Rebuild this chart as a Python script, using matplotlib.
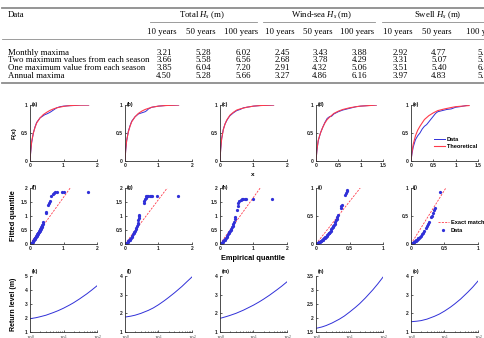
import matplotlib
matplotlib.use("Agg")
import matplotlib.pyplot as plt
from matplotlib.lines import Line2D
from matplotlib.ticker import LogLocator, NullFormatter

plt.rcParams['mathtext.fontset'] = 'custom'
plt.rcParams['mathtext.rm'] = 'Liberation Serif'
plt.rcParams['mathtext.it'] = 'Liberation Serif:italic'

# ---------------- table data ----------------
row_labels = ["Monthly maxima", "Two maximum values from each season",
              "One maximum value from each season", "Annual maxima"]
group_labels = ["Total $H_s$ (m)", "Wind-sea $H_s$ (m)", "Swell $H_s$ (m)"]
period_labels = ["10 years", "50 years", "100 years"]
total_vals = [[3.21, 5.28, 6.02], [3.66, 5.58, 6.56], [3.85, 6.04, 7.20], [4.50, 5.28, 5.66]]
wind_vals = [[2.45, 3.43, 3.88], [2.68, 3.78, 4.29], [2.91, 4.32, 5.06], [3.27, 4.86, 6.16]]
swell_vals = [[2.92, 4.77, 5.35], [3.31, 5.07, 5.95], [3.51, 5.40, 6.45], [3.97, 4.83, 5.30]]

# ---------------- row 1: CDFs ----------------
panel_letters = ["a", "b", "c", "d", "e", "f", "g", "h", "i", "j", "k", "l", "m", "n", "o"]
cdf_theo_x = [
    [0, 0.02, 0.05, 0.1, 0.15, 0.2, 0.3, 0.4, 0.5, 0.6, 0.7, 0.8, 1.0, 1.2, 1.5, 1.75],
    [0, 0.02, 0.05, 0.1, 0.15, 0.2, 0.3, 0.4, 0.5, 0.6, 0.7, 0.8, 1.0, 1.2, 1.6],
    [0, 0.02, 0.05, 0.1, 0.15, 0.2, 0.3, 0.4, 0.5, 0.6, 0.8, 1.0, 1.2, 1.6],
    [0, 0.02, 0.05, 0.1, 0.15, 0.2, 0.25, 0.3, 0.4, 0.5, 0.6, 0.75, 0.9, 1.0, 1.2, 1.35],
    [0, 0.02, 0.05, 0.1, 0.15, 0.2, 0.3, 0.4, 0.5, 0.6, 0.75, 0.9, 1.0, 1.3],
]
cdf_theo_f = [
    [0, 0.18, 0.35, 0.5, 0.6, 0.68, 0.77, 0.83, 0.87, 0.905, 0.93, 0.95, 0.975, 0.99, 0.998, 1.0],
    [0, 0.2, 0.37, 0.52, 0.62, 0.7, 0.79, 0.85, 0.89, 0.92, 0.94, 0.96, 0.98, 0.99, 1.0],
    [0, 0.22, 0.4, 0.56, 0.66, 0.73, 0.82, 0.87, 0.91, 0.93, 0.96, 0.98, 0.99, 1.0],
    [0, 0.2, 0.37, 0.5, 0.6, 0.68, 0.74, 0.78, 0.85, 0.89, 0.92, 0.95, 0.97, 0.98, 0.99, 1.0],
    [0, 0.15, 0.3, 0.45, 0.55, 0.62, 0.74, 0.81, 0.86, 0.9, 0.93, 0.955, 0.97, 0.99],
]
cdf_emp_x = [
    [0, 0.02, 0.05, 0.1, 0.15, 0.2, 0.3, 0.35, 0.4, 0.45, 0.5, 0.55, 0.6, 0.7, 0.8, 0.9, 1.0, 1.1, 1.3, 1.5, 1.75],
    [0, 0.02, 0.05, 0.1, 0.15, 0.2, 0.3, 0.4, 0.45, 0.5, 0.55, 0.6, 0.65, 0.7, 0.8, 0.9, 1.0, 1.2, 1.6],
    [0, 0.02, 0.05, 0.1, 0.15, 0.2, 0.25, 0.3, 0.4, 0.5, 0.6, 0.7, 0.8, 1.0, 1.2, 1.6],
    [0, 0.02, 0.05, 0.1, 0.15, 0.2, 0.25, 0.3, 0.35, 0.4, 0.5, 0.6, 0.7, 0.8, 0.9, 1.0, 1.35],
    [0, 0.02, 0.05, 0.1, 0.15, 0.2, 0.25, 0.3, 0.35, 0.4, 0.45, 0.5, 0.55, 0.6, 0.7, 0.8, 0.9, 1.0, 1.1, 1.3],
]
cdf_emp_f = [
    [0, 0.15, 0.33, 0.5, 0.61, 0.69, 0.77, 0.79, 0.81, 0.83, 0.84, 0.855, 0.87, 0.91, 0.95, 0.97, 0.98, 0.985, 0.99, 1.0, 1.0],
    [0, 0.18, 0.36, 0.53, 0.63, 0.71, 0.79, 0.84, 0.85, 0.86, 0.87, 0.88, 0.9, 0.93, 0.96, 0.97, 0.98, 0.99, 1.0],
    [0, 0.2, 0.4, 0.57, 0.66, 0.72, 0.77, 0.81, 0.86, 0.9, 0.92, 0.95, 0.96, 0.98, 0.99, 1.0],
    [0, 0.18, 0.36, 0.5, 0.6, 0.69, 0.76, 0.79, 0.8, 0.84, 0.88, 0.91, 0.93, 0.95, 0.97, 0.98, 1.0],
    [0, 0.12, 0.25, 0.38, 0.45, 0.5, 0.57, 0.62, 0.65, 0.7, 0.75, 0.8, 0.85, 0.88, 0.9, 0.92, 0.93, 0.96, 0.97, 1.0],
]
cdf_xmax = [2, 2, 2, 1.5, 1.5]

# ---------------- row 2: QQ plots ----------------
qq_x = [
    [0.0, 0.02, 0.04, 0.05, 0.06, 0.08, 0.09, 0.1, 0.12, 0.13, 0.14, 0.15, 0.16, 0.18, 0.19, 0.2, 0.21, 0.22, 0.23,
     0.24, 0.25, 0.26, 0.27, 0.28, 0.29, 0.3, 0.31, 0.32, 0.33, 0.34, 0.35, 0.36, 0.37, 0.38, 0.4, 0.48, 0.49, 0.55,
     0.57, 0.59, 0.64, 0.68, 0.72, 0.76, 0.8, 0.95, 1.0, 1.73],
    [0, 0.02, 0.04, 0.06, 0.08, 0.1, 0.12, 0.14, 0.16, 0.18, 0.2, 0.22, 0.24, 0.26, 0.28, 0.3, 0.32, 0.34, 0.36, 0.38,
     0.39, 0.4, 0.41, 0.42, 0.43, 0.57, 0.58, 0.6, 0.62, 0.64, 0.66, 0.7, 0.74, 0.78, 0.82, 0.95, 1.58],
    [0, 0.02, 0.04, 0.06, 0.08, 0.1, 0.12, 0.14, 0.16, 0.18, 0.2, 0.22, 0.24, 0.26, 0.28, 0.3, 0.32, 0.34, 0.36, 0.38,
     0.4, 0.42, 0.44, 0.46, 0.5, 0.53, 0.55, 0.58, 0.62, 0.66, 0.7, 0.74, 0.78, 0.98, 1.56],
    [0, 0.02, 0.03, 0.04, 0.05, 0.06, 0.07, 0.08, 0.09, 0.1, 0.11, 0.12, 0.13, 0.14, 0.15, 0.16, 0.17, 0.18, 0.19, 0.2,
     0.21, 0.22, 0.23, 0.24, 0.25, 0.26, 0.27, 0.28, 0.29, 0.3, 0.31, 0.32, 0.33, 0.37, 0.38, 0.39, 0.44, 0.45, 0.46, 0.47],
    [0, 0.01, 0.02, 0.03, 0.04, 0.05, 0.06, 0.07, 0.08, 0.09, 0.1, 0.11, 0.12, 0.14, 0.15, 0.17, 0.18, 0.2, 0.22, 0.24,
     0.25, 0.27, 0.3, 0.31, 0.33, 0.35, 0.36, 0.43],
]
qq_y = [
    [0.0, 0.01, 0.03, 0.04, 0.05, 0.08, 0.1, 0.12, 0.15, 0.17, 0.19, 0.21, 0.23, 0.26, 0.28, 0.3, 0.32, 0.34, 0.36,
     0.38, 0.4, 0.42, 0.44, 0.46, 0.48, 0.5, 0.52, 0.55, 0.57, 0.6, 0.62, 0.65, 0.68, 0.72, 0.77, 1.1, 1.13, 1.38,
     1.45, 1.52, 1.72, 1.8, 1.83, 1.84, 1.84, 1.84, 1.84, 1.84],
    [0, 0.01, 0.03, 0.05, 0.07, 0.1, 0.13, 0.16, 0.19, 0.22, 0.26, 0.3, 0.34, 0.38, 0.43, 0.48, 0.53, 0.58, 0.63, 0.7,
     0.76, 0.84, 0.92, 1.0, 1.05, 1.48, 1.52, 1.6, 1.66, 1.7, 1.72, 1.72, 1.72, 1.72, 1.72, 1.72, 1.72],
    [0, 0.02, 0.03, 0.05, 0.08, 0.1, 0.13, 0.16, 0.19, 0.22, 0.26, 0.3, 0.34, 0.38, 0.42, 0.46, 0.5, 0.55, 0.6, 0.66,
     0.72, 0.8, 0.88, 0.98, 1.2, 1.35, 1.45, 1.52, 1.56, 1.6, 1.6, 1.6, 1.6, 1.6, 1.6],
    [0, 0.01, 0.02, 0.03, 0.035, 0.04, 0.05, 0.06, 0.07, 0.08, 0.09, 0.1, 0.11, 0.12, 0.13, 0.14, 0.16, 0.17, 0.19, 0.2,
     0.22, 0.24, 0.26, 0.28, 0.3, 0.32, 0.34, 0.36, 0.39, 0.42, 0.45, 0.48, 0.52, 0.64, 0.67, 0.7, 0.88, 0.91, 0.94, 0.97],
    [0, 0.01, 0.015, 0.02, 0.03, 0.04, 0.05, 0.06, 0.07, 0.08, 0.09, 0.1, 0.11, 0.13, 0.15, 0.18, 0.2, 0.24, 0.28, 0.33,
     0.36, 0.4, 0.48, 0.5, 0.55, 0.6, 0.65, 0.93],
]
match_line_x = [[0, 1.2], [0, 1.26], [0, 1.2], [0, 0.66], [0, 0.52]]
match_line_y = [[0, 2], [0, 2], [0, 2], [0, 1], [0, 1]]
qq_max = [2, 2, 2, 1, 1]

# ---------------- row 3: return levels ----------------
return_period = [1, 1.5, 2, 3, 5, 7, 10, 15, 20, 30, 50, 70, 100]
return_level = [
    [1.95, 2.02, 2.09, 2.20, 2.39, 2.53, 2.70, 2.92, 3.09, 3.36, 3.73, 4.00, 4.30],
    [1.80, 1.85, 1.90, 2.00, 2.16, 2.29, 2.46, 2.68, 2.85, 3.10, 3.44, 3.69, 3.95],
    [1.73, 1.82, 1.89, 2.00, 2.17, 2.30, 2.44, 2.62, 2.76, 2.97, 3.26, 3.46, 3.69],
    [1.63, 1.68, 1.73, 1.82, 1.96, 2.07, 2.21, 2.38, 2.51, 2.72, 3.01, 3.22, 3.46],
    [1.55, 1.58, 1.61, 1.69, 1.84, 1.96, 2.12, 2.33, 2.50, 2.76, 3.14, 3.41, 3.73],
]
rl_ylim = [(1, 5), (1, 4), (1, 4), (1.5, 3.5), (1, 4)]
rl_yticks = [[1, 2, 3, 4, 5], [1, 2, 3, 4], [1, 2, 3, 4], [1.5, 2, 2.5, 3, 3.5], [1, 2, 3, 4]]

# ---------------- figure ----------------
W, H = 485, 338
fig = plt.figure(figsize=(W / 100, H / 100), dpi=100)


def fx(x):
    return x / W


def fy(y):
    return 1 - y / H


SERIF = 'Liberation Serif'
SANS = 'Liberation Sans'
TFS = 6.3

# table rules
def hline(x0, x1, y, lw, color='#8c8c8c'):
    fig.add_artist(Line2D([fx(x0), fx(x1)], [fy(y), fy(y)], transform=fig.transFigure, lw=lw, color=color))

hline(2, 485, 8, 1.3)
hline(150, 257, 22, 0.6)
hline(263, 375, 22, 0.6)
hline(382, 485, 22, 0.6)
hline(2, 485, 39, 0.6)
hline(2, 485, 83, 1.3)

fig.text(fx(8), fy(15), "Data", ha='left', va='center', fontsize=TFS, family=SERIF)
for gx, g in zip([202, 322, 438], group_labels):
    fig.text(fx(gx), fy(15), g, ha='center', va='center', fontsize=TFS, family=SERIF)
col_x = [162, 201, 241, 280, 318, 357, 398, 437, 483]
for i, cx in enumerate(col_x):
    fig.text(fx(cx), fy(32), period_labels[i % 3], ha='center', va='center', fontsize=TFS, family=SERIF)
row_y = [53, 60.3, 68.3, 76]
for r, ry in enumerate(row_y):
    fig.text(fx(8), fy(ry), row_labels[r], ha='left', va='center', fontsize=TFS, family=SERIF)
    vals = total_vals[r] + wind_vals[r] + swell_vals[r]
    for cx, v in zip(col_x, vals):
        fig.text(fx(cx + 2), fy(ry), f"{v:.2f}", ha='center', va='center', fontsize=TFS, family=SERIF)

# subplot geometry (pixels)
lefts = [30, 125, 220, 316, 411]
aw = 67
rows_top = [105, 188, 276]
ah = 56

BLUE = '#3030d8'
RED = '#ff3a4a'
TICKFS = 3.6


def style(ax):
    for s in ['top', 'right']:
        ax.spines[s].set_visible(False)
    for s in ['left', 'bottom']:
        ax.spines[s].set_linewidth(0.6)
        ax.spines[s].set_color('#303030')
    ax.tick_params(direction='in', length=1.6, width=0.5, pad=1.5, labelsize=TICKFS, colors='#202020')
    ax.tick_params(which='minor', direction='in', length=1.0, width=0.4)
    for lab in ax.get_xticklabels() + ax.get_yticklabels():
        lab.set_fontfamily(SANS)
        lab.set_fontweight('bold')


axes = []
for r in range(3):
    for c in range(5):
        ax = fig.add_axes([fx(lefts[c]), fy(rows_top[r] + ah), aw / W, ah / H])
        axes.append(ax)

LEGPROP = {'family': SANS, 'weight': 'bold', 'size': 4.1}

# row 1
for c in range(5):
    ax = axes[c]
    ax.plot(cdf_emp_x[c], cdf_emp_f[c], color=BLUE, lw=0.7, label='Data')
    ax.plot(cdf_theo_x[c], cdf_theo_f[c], color=RED, lw=0.8, label='Theoretical')
    ax.set_xlim(0, cdf_xmax[c])
    ax.set_ylim(0, 1)
    ax.set_yticks([0, 0.5, 1])
    ax.set_yticklabels(['0', '0.5', '1'])
    if cdf_xmax[c] == 2:
        ax.set_xticks([0, 1, 2])
        ax.set_xticklabels(['0', '1', '2'])
    else:
        ax.set_xticks([0, 0.5, 1, 1.5])
        ax.set_xticklabels(['0', '0.5', '1', '1.5'])
    style(ax)
axes[4].legend(loc='center left', bbox_to_anchor=(0.30, 0.32), frameon=False, prop=LEGPROP,
               handlelength=1.9, handletextpad=0.4, labelspacing=0.45, borderpad=0)

# row 2
for c in range(5):
    ax = axes[5 + c]
    ax.plot(match_line_x[c], match_line_y[c], color=RED, lw=0.6, ls=(0, (2.5, 1.5)), label='Exact match line')
    ax.plot(qq_x[c], qq_y[c], ls='none', marker='.', ms=2.6, color=BLUE, mec=BLUE, label='Data')
    m = qq_max[c]
    ax.set_xlim(0, m)
    ax.set_ylim(0, m)
    if m == 2:
        ax.set_xticks([0, 1, 2])
        ax.set_xticklabels(['0', '1', '2'])
        ax.set_yticks([0, 0.5, 1, 1.5, 2])
        ax.set_yticklabels(['0', '0.5', '1', '1.5', '2'])
    else:
        ax.set_xticks([0, 0.5, 1])
        ax.set_xticklabels(['0', '0.5', '1'])
        ax.set_yticks([0, 0.5, 1])
        ax.set_yticklabels(['0', '0.5', '1'])
    style(ax)
axes[9].legend(loc='center left', bbox_to_anchor=(0.36, 0.31), frameon=False, prop=LEGPROP,
               handlelength=1.9, handletextpad=0.4, labelspacing=0.45, borderpad=0)

# row 3
for c in range(5):
    ax = axes[10 + c]
    ax.plot(return_period, return_level[c], color=BLUE, lw=0.7)
    ax.set_xscale('log')
    ax.set_xlim(1, 100)
    ax.set_ylim(*rl_ylim[c])
    ax.set_yticks(rl_yticks[c])
    ax.set_yticklabels([f"{v:g}" for v in rl_yticks[c]])
    ax.xaxis.set_minor_locator(LogLocator(base=10, subs=range(2, 10)))
    ax.xaxis.set_minor_formatter(NullFormatter())
    ax.set_xticks([1, 10, 100])
    ax.set_xticklabels(['$10^0$', '$10^1$', '$10^2$'])
    style(ax)

# panel letters
for r in range(3):
    for c in range(5):
        ytxt = rows_top[r] if r < 2 else rows_top[r] - 5
        fig.text(fx(lefts[c] + 2), fy(ytxt), f"({panel_letters[r * 5 + c]})", ha='left', va='center',
                 fontsize=3.6, family=SANS, fontweight='bold')

# axis labels
fig.text(fx(14), fy(133), "F(x)", rotation=90, ha='center', va='center', fontsize=4.6, family=SANS, fontweight='bold')
fig.text(fx(253), fy(174), "x", ha='center', va='center', fontsize=4.6, family=SANS, fontweight='bold')
fig.text(fx(14), fy(216), "Fitted quantile", rotation=90, ha='center', va='center', fontsize=5.3, family=SANS,
         fontweight='bold')
fig.text(fx(253), fy(258), "Empirical quantile", ha='center', va='center', fontsize=5.3, family=SANS,
         fontweight='bold')
fig.text(fx(14), fy(304), "Return level (m)", rotation=90, ha='center', va='center', fontsize=5.0, family=SANS,
         fontweight='bold')

fig.savefig("out.png", dpi=100)
